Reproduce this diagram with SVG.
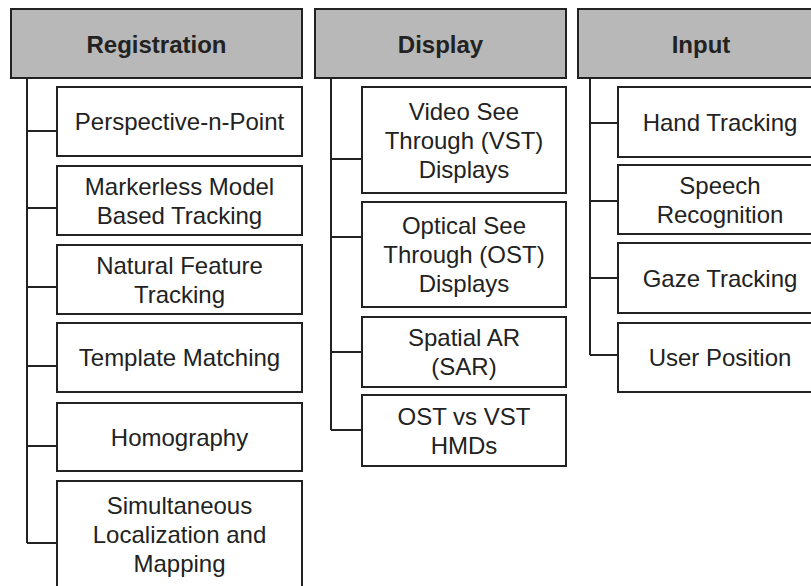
<svg xmlns="http://www.w3.org/2000/svg" width="811" height="586" viewBox="0 0 811 586">
<style>
.hdr{fill:#b8b8b8;stroke:#222;stroke-width:2}
.box{fill:#fff;stroke:#222;stroke-width:2}
.ht{font-family:"Liberation Sans",Arial,sans-serif;font-size:24px;font-weight:bold;fill:#222;text-anchor:middle}
.t{font-family:"Liberation Sans",Arial,sans-serif;font-size:24px;fill:#222;text-anchor:middle}
.c{fill:none;stroke:#222;stroke-width:2}
</style>
<rect width="811" height="586" fill="#fff"/>
<g id="connectors">
<path class="c" d="M27,78 V543 M27,131 H57 M27,208 H57 M27,287 H57 M27,366 H57 M27,446 H57 M27,543 H57"/>
<path class="c" d="M331,78 V430 M331,159 H362 M331,237 H362 M331,352 H362 M331,430 H362"/>
<path class="c" d="M590,78 V355 M590,123 H618 M590,201 H618 M590,278 H618 M590,355 H618"/>
</g>
<g id="registration"><rect class="hdr" x="11" y="9" width="291" height="69"/><text class="ht" x="156.5" y="53">Registration</text></g>
<g id="display"><rect class="hdr" x="315" y="9" width="251" height="69"/><text class="ht" x="440.5" y="53">Display</text></g>
<g id="input"><rect class="hdr" x="578" y="9" width="246" height="69"/><text class="ht" x="701" y="53">Input</text></g>

<g id="pnp"><rect class="box" x="57" y="87" width="245" height="69"/><text class="t" x="179.5" y="130">Perspective-n-Point</text></g>
<g id="markerless"><rect class="box" x="57" y="166" width="245" height="69"/><text class="t" x="179.5" y="195">Markerless Model</text><text class="t" x="179.5" y="224">Based Tracking</text></g>
<g id="natural"><rect class="box" x="57" y="245" width="245" height="69"/><text class="t" x="179.5" y="273.5">Natural Feature</text><text class="t" x="179.5" y="302.5">Tracking</text></g>
<g id="template"><rect class="box" x="57" y="323" width="245" height="69"/><text class="t" x="179.5" y="366">Template Matching</text></g>
<g id="homography"><rect class="box" x="57" y="403" width="245" height="68"/><text class="t" x="179.5" y="445.5">Homography</text></g>
<g id="slam"><rect class="box" x="57" y="481" width="245" height="107"/><text class="t" x="179.5" y="514">Simultaneous</text><text class="t" x="179.5" y="543">Localization and</text><text class="t" x="179.5" y="572">Mapping</text></g>

<g id="vst"><rect class="box" x="362" y="87" width="204" height="106"/><text class="t" x="464" y="119.5">Video See</text><text class="t" x="464" y="148.5">Through (VST)</text><text class="t" x="464" y="177.5">Displays</text></g>
<g id="ost"><rect class="box" x="362" y="202" width="204" height="105"/><text class="t" x="464" y="234">Optical See</text><text class="t" x="464" y="263">Through (OST)</text><text class="t" x="464" y="292">Displays</text></g>
<g id="sar"><rect class="box" x="362" y="317" width="204" height="70"/><text class="t" x="464" y="346">Spatial AR</text><text class="t" x="464" y="375">(SAR)</text></g>
<g id="hmd"><rect class="box" x="362" y="395" width="204" height="71"/><text class="t" x="464" y="424.5">OST vs VST</text><text class="t" x="464" y="453.5">HMDs</text></g>

<g id="hand"><rect class="box" x="618" y="87" width="204" height="70"/><text class="t" x="720" y="130.5">Hand Tracking</text></g>
<g id="speech"><rect class="box" x="618" y="165" width="204" height="69"/><text class="t" x="720" y="193.5">Speech</text><text class="t" x="720" y="222.5">Recognition</text></g>
<g id="gaze"><rect class="box" x="618" y="243" width="204" height="70"/><text class="t" x="720" y="286.5">Gaze Tracking</text></g>
<g id="user"><rect class="box" x="618" y="323" width="204" height="69"/><text class="t" x="720" y="366">User Position</text></g>
</svg>
